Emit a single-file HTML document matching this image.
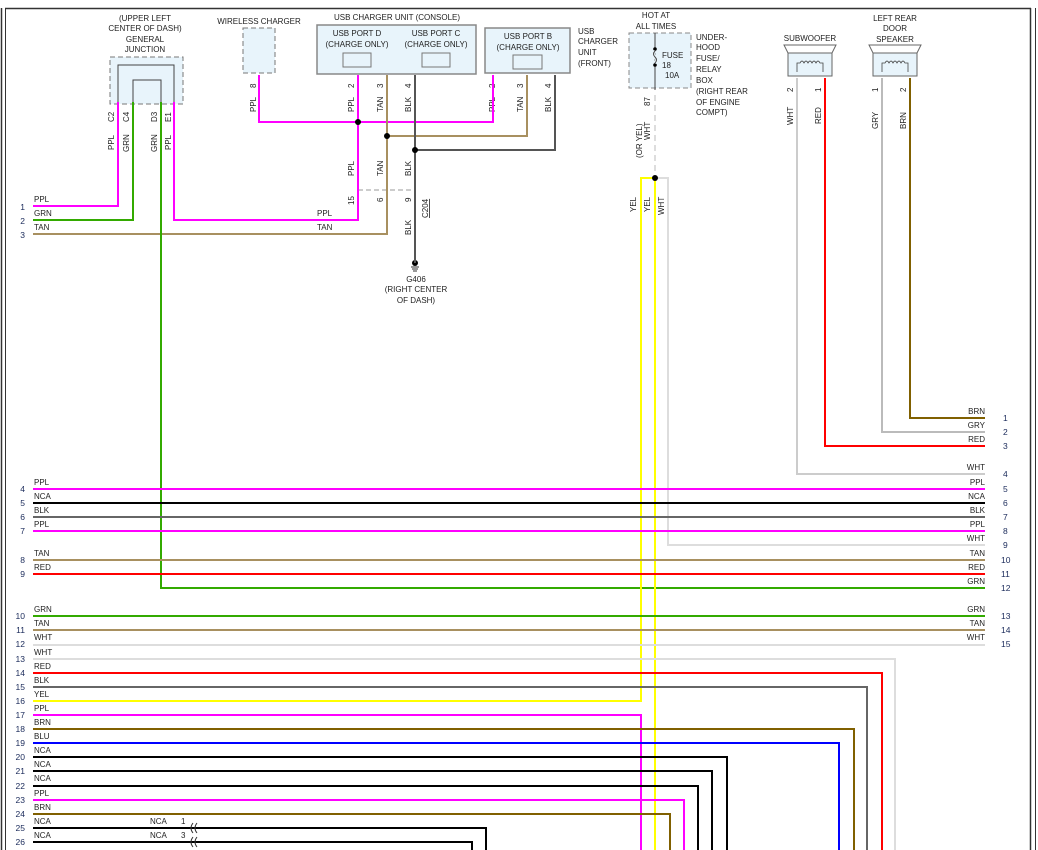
<!DOCTYPE html>
<html><head><meta charset="utf-8"><style>
html,body{margin:0;padding:0;background:#fff}
svg{display:block}
text{font-family:"Liberation Sans",sans-serif;font-size:8px;fill:#222}
.n{fill:#1a2a5a;font-size:8.5px}
</style></head><body>
<svg width="1038" height="850" viewBox="0 0 1038 850" xmlns="http://www.w3.org/2000/svg">
<line x1="1.5" y1="8" x2="1.5" y2="850" stroke="#333" stroke-width="1.5"/>
<line x1="5.5" y1="8" x2="5.5" y2="850" stroke="#333" stroke-width="1"/>
<line x1="5" y1="8.5" x2="1031" y2="8.5" stroke="#333" stroke-width="1.5"/>
<line x1="1030.5" y1="8" x2="1030.5" y2="850" stroke="#333" stroke-width="1.5"/>
<line x1="1035.5" y1="8" x2="1035.5" y2="850" stroke="#333" stroke-width="1"/>

<text x="145" y="21" text-anchor="middle">(UPPER LEFT</text>
<text x="145" y="31" text-anchor="middle">CENTER OF DASH)</text>
<text x="145" y="42" text-anchor="middle">GENERAL</text>
<text x="145" y="52" text-anchor="middle">JUNCTION</text>
<rect x="110" y="57" width="73" height="47" fill="#e8f4fb" stroke="#777" stroke-dasharray="5,3"/>
<polyline points="118,102 118,65 174,65 174,102" fill="none" stroke="#444"/>
<polyline points="133,102 133,80 161,80 161,102" fill="none" stroke="#444"/>
<g font-size="9">
<text transform="translate(114,122) rotate(-90)">C2</text>
<text transform="translate(129,122) rotate(-90)">C4</text>
<text transform="translate(157,122) rotate(-90)">D3</text>
<text transform="translate(171,122) rotate(-90)">E1</text>
<text transform="translate(114,150) rotate(-90)">PPL</text>
<text transform="translate(129,152) rotate(-90)">GRN</text>
<text transform="translate(157,152) rotate(-90)">GRN</text>
<text transform="translate(171,150) rotate(-90)">PPL</text>
</g>

<text x="259" y="24" text-anchor="middle">WIRELESS CHARGER</text>
<rect x="243" y="28" width="32" height="45" fill="#e8f4fb" stroke="#777" stroke-dasharray="5,3"/>
<text transform="translate(256,88) rotate(-90)">8</text>
<text transform="translate(256,112) rotate(-90)">PPL</text>

<text x="397" y="20" text-anchor="middle">USB CHARGER UNIT (CONSOLE)</text>
<rect x="317" y="25" width="159" height="49" fill="#e8f4fb" stroke="#888" stroke-width="1.5"/>
<text x="357" y="36" text-anchor="middle">USB PORT D</text>
<text x="357" y="47" text-anchor="middle">(CHARGE ONLY)</text>
<text x="436" y="36" text-anchor="middle">USB PORT C</text>
<text x="436" y="47" text-anchor="middle">(CHARGE ONLY)</text>
<rect x="343" y="53" width="28" height="14" fill="#e8f4fb" stroke="#777"/>
<rect x="422" y="53" width="28" height="14" fill="#e8f4fb" stroke="#777"/>
<text transform="translate(354,88) rotate(-90)">2</text>
<text transform="translate(383,88) rotate(-90)">3</text>
<text transform="translate(411,88) rotate(-90)">4</text>
<text transform="translate(354,112) rotate(-90)">PPL</text>
<text transform="translate(383,112) rotate(-90)">TAN</text>
<text transform="translate(411,112) rotate(-90)">BLK</text>
<text transform="translate(354,176) rotate(-90)">PPL</text>
<text transform="translate(383,176) rotate(-90)">TAN</text>
<text transform="translate(411,176) rotate(-90)">BLK</text>

<rect x="485" y="28" width="85" height="45" fill="#e8f4fb" stroke="#888" stroke-width="1.5"/>
<text x="528" y="39" text-anchor="middle">USB PORT B</text>
<text x="528" y="50" text-anchor="middle">(CHARGE ONLY)</text>
<rect x="513" y="55" width="29" height="14" fill="#e8f4fb" stroke="#777"/>
<text x="578" y="34">USB</text><text x="578" y="44">CHARGER</text><text x="578" y="55">UNIT</text><text x="578" y="66">(FRONT)</text>
<text transform="translate(495,88) rotate(-90)">2</text>
<text transform="translate(523,88) rotate(-90)">3</text>
<text transform="translate(551,88) rotate(-90)">4</text>
<text transform="translate(495,112) rotate(-90)">PPL</text>
<text transform="translate(523,112) rotate(-90)">TAN</text>
<text transform="translate(551,112) rotate(-90)">BLK</text>

<line x1="358" y1="190" x2="415" y2="190" stroke="#999" stroke-dasharray="5,3"/>
<text transform="translate(354,205) rotate(-90)">15</text>
<text transform="translate(383,202) rotate(-90)">6</text>
<text transform="translate(411,202) rotate(-90)">9</text>
<text transform="translate(428,218) rotate(-90)" text-decoration="underline">C204</text>
<text transform="translate(411,235) rotate(-90)">BLK</text>
<circle cx="415" cy="263" r="3" fill="#000"/>
<line x1="411" y1="267" x2="419" y2="267" stroke="#333"/><line x1="412" y1="269" x2="418" y2="269" stroke="#333"/><line x1="413" y1="271" x2="417" y2="271" stroke="#333"/>
<text x="416" y="282" text-anchor="middle">G406</text>
<text x="416" y="292" text-anchor="middle">(RIGHT CENTER</text>
<text x="416" y="303" text-anchor="middle">OF DASH)</text>

<text x="656" y="18" text-anchor="middle">HOT AT</text>
<text x="656" y="29" text-anchor="middle">ALL TIMES</text>
<rect x="629" y="33" width="62" height="55" fill="#e8f4fb" stroke="#888" stroke-dasharray="5,3"/>
<line x1="655" y1="33" x2="655" y2="90" stroke="#444"/>
<circle cx="655" cy="49" r="1.8" fill="#000"/><circle cx="655" cy="65" r="1.8" fill="#000"/>
<path d="M655,51 q-3,3 0,6 q3,3 0,6" fill="none" stroke="#e8f4fb" stroke-width="3"/>
<path d="M655,51 q-3,3 0,6 q3,3 0,6" fill="none" stroke="#444"/>
<text x="662" y="58">FUSE</text><text x="662" y="68">18</text><text x="665" y="78">10A</text>
<text x="696" y="40">UNDER-</text><text x="696" y="50">HOOD</text><text x="696" y="61">FUSE/</text><text x="696" y="72">RELAY</text><text x="696" y="83">BOX</text><text x="696" y="94">(RIGHT REAR</text><text x="696" y="105">OF ENGINE</text><text x="696" y="115">COMPT)</text>
<text transform="translate(650,106) rotate(-90)">87</text>
<text transform="translate(642,158) rotate(-90)">(OR YEL)</text>
<text transform="translate(650,140) rotate(-90)">WHT</text>
<text transform="translate(636,212) rotate(-90)">YEL</text>
<text transform="translate(650,212) rotate(-90)">YEL</text>
<text transform="translate(664,215) rotate(-90)">WHT</text>

<text x="810" y="41" text-anchor="middle">SUBWOOFER</text>
<polygon points="784,45 836,45 832,53 788,53" fill="#fff" stroke="#666"/>
<rect x="788" y="53" width="44" height="23" fill="#e8f4fb" stroke="#666"/>
<path d="M797,72 v-9 h3 q2,-4 4,0 q2,-4 4,0 q2,-4 4,0 q2,-4 4,0 q2,-4 4,0 h3 v9" fill="none" stroke="#444" stroke-width="0.8"/>
<text transform="translate(793,92) rotate(-90)">2</text>
<text transform="translate(821,92) rotate(-90)">1</text>
<text transform="translate(793,125) rotate(-90)">WHT</text>
<text transform="translate(821,124) rotate(-90)">RED</text>
<text x="895" y="21" text-anchor="middle">LEFT REAR</text>
<text x="895" y="31" text-anchor="middle">DOOR</text>
<text x="895" y="42" text-anchor="middle">SPEAKER</text>
<polygon points="869,45 921,45 917,53 873,53" fill="#fff" stroke="#666"/>
<rect x="873" y="53" width="44" height="23" fill="#e8f4fb" stroke="#666"/>
<path d="M882,72 v-9 h3 q2,-4 4,0 q2,-4 4,0 q2,-4 4,0 q2,-4 4,0 q2,-4 4,0 h3 v9" fill="none" stroke="#444" stroke-width="0.8"/>
<text transform="translate(878,92) rotate(-90)">1</text>
<text transform="translate(906,92) rotate(-90)">2</text>
<text transform="translate(878,129) rotate(-90)">GRY</text>
<text transform="translate(906,129) rotate(-90)">BRN</text>

<g fill="none" stroke-width="2">
<polyline points="33,206 118,206 118,102" stroke="#ff00ff"/>
<polyline points="33,220 133,220 133,102" stroke="#33aa00"/>
<polyline points="33,234 387,234 387,190" stroke="#a89060"/>
<polyline points="161,102 161,588 985,588" stroke="#33aa00"/>
<polyline points="174,102 174,220 358,220 358,190" stroke="#ff00ff"/>
<polyline points="259,75 259,122 493,122 493,75" stroke="#ff00ff"/>
<line x1="358" y1="75" x2="358" y2="190" stroke="#ff00ff"/>
<polyline points="387,136 527,136 527,75" stroke="#a89060"/>
<line x1="387" y1="75" x2="387" y2="190" stroke="#a89060"/>
<polyline points="415,150 555,150 555,75" stroke="#555"/>
<line x1="415" y1="75" x2="415" y2="263" stroke="#555"/>
<line x1="655" y1="95" x2="655" y2="175" stroke="#ddd" stroke-dasharray="6,4"/>
<polyline points="655,178 641,178 641,701 33,701" stroke="#ffff00"/>
<line x1="655" y1="178" x2="655" y2="850" stroke="#ffff00"/>
<polyline points="655,178 668,178 668,545 985,545" stroke="#ddd"/>
<polyline points="797,78 797,474 985,474" stroke="#ccc"/>
<polyline points="825,78 825,446 985,446" stroke="#ff0000"/>
<polyline points="882,78 882,432 985,432" stroke="#bbb"/>
<polyline points="910,78 910,418 985,418" stroke="#806000"/>
<line x1="33" y1="489" x2="985" y2="489" stroke="#ff00ff"/>
<line x1="33" y1="503" x2="985" y2="503" stroke="#000"/>
<line x1="33" y1="517" x2="985" y2="517" stroke="#666"/>
<line x1="33" y1="531" x2="985" y2="531" stroke="#ff00ff"/>
<line x1="33" y1="560" x2="985" y2="560" stroke="#a89060"/>
<line x1="33" y1="574" x2="985" y2="574" stroke="#ff0000"/>
<line x1="33" y1="616" x2="985" y2="616" stroke="#33aa00"/>
<line x1="33" y1="630" x2="985" y2="630" stroke="#a89060"/>
<line x1="33" y1="645" x2="985" y2="645" stroke="#ddd"/>
<polyline points="33,659 895,659 895,850" stroke="#ddd"/>
<polyline points="33,673 882,673 882,850" stroke="#ff0000"/>
<polyline points="33,687 867,687 867,850" stroke="#666"/>
<polyline points="33,715 641,715 641,850" stroke="#ff00ff"/>
<polyline points="33,729 854,729 854,850" stroke="#806000"/>
<polyline points="33,743 839,743 839,850" stroke="#0000ff"/>
<polyline points="33,757 727,757 727,850" stroke="#000"/>
<polyline points="33,771 712,771 712,850" stroke="#000"/>
<polyline points="33,786 698,786 698,850" stroke="#000"/>
<polyline points="33,800 684,800 684,850" stroke="#ff00ff"/>
<polyline points="33,814 670,814 670,850" stroke="#806000"/>
<polyline points="33,828 486,828 486,850" stroke="#000"/>
<polyline points="33,842 472,842 472,850" stroke="#000"/>
</g>
<g fill="#000">
<circle cx="358" cy="122" r="3"/><circle cx="387" cy="136" r="3"/><circle cx="415" cy="150" r="3"/><circle cx="655" cy="178" r="3"/>
</g>
<g fill="none" stroke="#333" stroke-width="1">
<path d="M193,823 q-4,5 0,10 M197,823 q-4,5 0,10"/>
<path d="M193,837 q-4,5 0,10 M197,837 q-4,5 0,10"/>
</g>

<g>
<text x="34" y="202">PPL</text><text x="34" y="216">GRN</text><text x="34" y="230">TAN</text>
<text x="317" y="216">PPL</text><text x="317" y="230">TAN</text>
<text x="34" y="485">PPL</text><text x="34" y="499">NCA</text><text x="34" y="513">BLK</text><text x="34" y="527">PPL</text>
<text x="34" y="556">TAN</text><text x="34" y="570">RED</text>
<text x="34" y="612">GRN</text><text x="34" y="626">TAN</text><text x="34" y="640">WHT</text>
<text x="34" y="655">WHT</text><text x="34" y="669">RED</text><text x="34" y="683">BLK</text><text x="34" y="697">YEL</text>
<text x="34" y="711">PPL</text><text x="34" y="725">BRN</text><text x="34" y="739">BLU</text><text x="34" y="753">NCA</text>
<text x="34" y="767">NCA</text><text x="34" y="781">NCA</text><text x="34" y="796">PPL</text><text x="34" y="810">BRN</text>
<text x="34" y="824">NCA</text><text x="34" y="838">NCA</text>
<text x="150" y="824">NCA</text><text x="150" y="838">NCA</text><text x="181" y="824">1</text><text x="181" y="838">3</text>
</g>
<g class="n" text-anchor="end">
<text x="25" y="210" class="n">1</text><text x="25" y="224" class="n">2</text><text x="25" y="238" class="n">3</text>
<text x="25" y="492" class="n">4</text><text x="25" y="506" class="n">5</text><text x="25" y="520" class="n">6</text><text x="25" y="534" class="n">7</text>
<text x="25" y="563" class="n">8</text><text x="25" y="577" class="n">9</text>
<text x="25" y="619" class="n">10</text><text x="25" y="633" class="n">11</text><text x="25" y="647" class="n">12</text>
<text x="25" y="662" class="n">13</text><text x="25" y="676" class="n">14</text><text x="25" y="690" class="n">15</text><text x="25" y="704" class="n">16</text>
<text x="25" y="718" class="n">17</text><text x="25" y="732" class="n">18</text><text x="25" y="746" class="n">19</text><text x="25" y="760" class="n">20</text>
<text x="25" y="774" class="n">21</text><text x="25" y="789" class="n">22</text><text x="25" y="803" class="n">23</text><text x="25" y="817" class="n">24</text>
<text x="25" y="831" class="n">25</text><text x="25" y="845" class="n">26</text>
</g>
<g text-anchor="end">
<text x="985" y="414">BRN</text><text x="985" y="428">GRY</text><text x="985" y="442">RED</text>
<text x="985" y="470">WHT</text><text x="985" y="485">PPL</text><text x="985" y="499">NCA</text><text x="985" y="513">BLK</text>
<text x="985" y="527">PPL</text><text x="985" y="541">WHT</text><text x="985" y="556">TAN</text><text x="985" y="570">RED</text>
<text x="985" y="584">GRN</text><text x="985" y="612">GRN</text><text x="985" y="626">TAN</text><text x="985" y="640">WHT</text>
</g>
<g>
<text x="1003" y="421" class="n">1</text><text x="1003" y="435" class="n">2</text><text x="1003" y="449" class="n">3</text>
<text x="1003" y="477" class="n">4</text><text x="1003" y="492" class="n">5</text><text x="1003" y="506" class="n">6</text>
<text x="1003" y="520" class="n">7</text><text x="1003" y="534" class="n">8</text><text x="1003" y="548" class="n">9</text>
<text x="1001" y="563" class="n">10</text><text x="1001" y="577" class="n">11</text><text x="1001" y="591" class="n">12</text>
<text x="1001" y="619" class="n">13</text><text x="1001" y="633" class="n">14</text><text x="1001" y="647" class="n">15</text>
</g>
</svg>
</body></html>
